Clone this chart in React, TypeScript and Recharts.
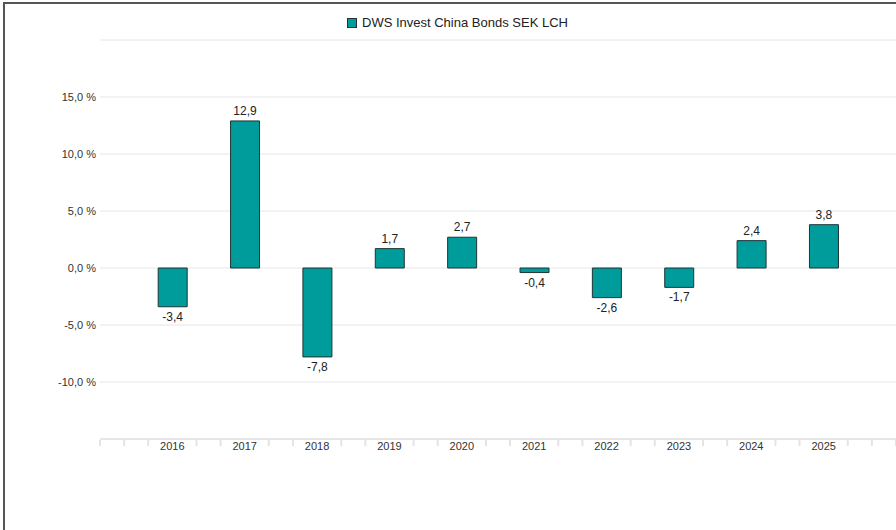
import React from 'react';
import { BarChart, Bar, XAxis, YAxis, CartesianGrid, Legend, LabelList } from 'recharts';

const years = ['2016', '2017', '2018', '2019', '2020', '2021', '2022', '2023', '2024', '2025'];
const values = [-3.4, 12.9, -7.8, 1.7, 2.7, -0.4, -2.6, -1.7, 2.4, 3.8];
const yTicks = [-15, -10, -5, 0, 5, 10, 15, 20];
const seriesName = 'DWS Invest China Bonds SEK LCH';

const data = years.map((y, i) => ({ year: y, pos: i + 1, value: values[i] }));
const xTicks = Array.from({ length: 34 }, (_, k) => k / 3);

const FONT = '"Liberation Sans", Arial, Helvetica, sans-serif';
const TEAL = '#009B9B';
const EDGE = '#1f3535';

const fmt = (v: number) => v.toFixed(1).replace('.', ',');

const XTick = (props: any) => {
  const { x, y, payload } = props;
  const v = payload.value as number;
  const r = Math.round(v);
  const isCenter = Math.abs(v - r) < 1e-6 && r >= 1 && r <= years.length;
  if (isCenter) {
    return (
      <text x={x} y={y + 3} dy="0.71em" textAnchor="middle" fontSize={11} fill="#333" fontFamily={FONT}>
        {years[r - 1]}
      </text>
    );
  }
  return <line x1={x} x2={x} y1={y + 1} y2={y + 7} stroke="#e4e4e4" strokeWidth={2} />;
};

const BarLabel = (props: any) => {
  const { x, y, width, height, value } = props;
  const top = Math.min(y, y + height);
  const bottom = Math.max(y, y + height);
  const cx = x + width / 2;
  const ty = value >= 0 ? top - 6 : bottom + 14;
  return (
    <text x={cx} y={ty} textAnchor="middle" fontSize={12} fill="#222" fontFamily={FONT}>
      {fmt(value)}
    </text>
  );
};

const LegendContent = () => (
  <div style={{ position: 'relative', height: 30, fontFamily: FONT }}>
    <div
      style={{
        position: 'absolute',
        left: 347,
        top: 8,
        width: 10,
        height: 10,
        boxSizing: 'border-box',
        background: TEAL,
        border: `1px solid ${EDGE}`,
      }}
    />
    <span
      style={{
        position: 'absolute',
        left: 362,
        top: 5,
        fontSize: 13,
        lineHeight: '16px',
        color: '#222',
        whiteSpace: 'nowrap',
      }}
    >
      {seriesName}
    </span>
  </div>
);

export default function App() {
  return (
    <div style={{ position: 'absolute', left: 0, top: 0, width: 896, height: 530, background: '#fff', overflow: 'hidden' }}>
      <div
        style={{
          position: 'absolute',
          left: 3,
          top: 2,
          width: 900,
          height: 540,
          borderLeft: '2px solid #555',
          borderTop: '2px solid #555',
        }}
      />
      <div style={{ position: 'absolute', left: 0, top: 0 }}>
        <BarChart width={896} height={530} data={data} margin={{ top: 10, right: 0, bottom: 61, left: 0 }}>
          <CartesianGrid vertical={false} stroke="#e6e6e6" />
          <Legend verticalAlign="top" content={<LegendContent />} wrapperStyle={{ left: 0, top: 10, width: 896 }} />
          <YAxis
            type="number"
            domain={[-15, 20]}
            ticks={yTicks}
            interval={0}
            width={100}
            axisLine={false}
            tickLine={false}
            tickSize={0}
            tickMargin={4}
            tick={{ fontSize: 11, fill: '#333', fontFamily: FONT }}
            tickFormatter={(v: number) => (v === 20 || v === -15 ? '' : `${fmt(v)} %`)}
          />
          <XAxis
            type="number"
            dataKey="pos"
            domain={[0, 11]}
            ticks={xTicks}
            interval={0}
            height={30}
            tickLine={false}
            tickSize={0}
            tickMargin={0}
            axisLine={{ stroke: '#e6e6e6', strokeWidth: 2 }}
            tick={<XTick />}
            allowDataOverflow
          />
          <Bar dataKey="value" name={seriesName} fill={TEAL} stroke={EDGE} strokeWidth={1} barSize={29} isAnimationActive={false}>
            <LabelList dataKey="value" content={<BarLabel />} />
          </Bar>
        </BarChart>
      </div>
    </div>
  );
}
